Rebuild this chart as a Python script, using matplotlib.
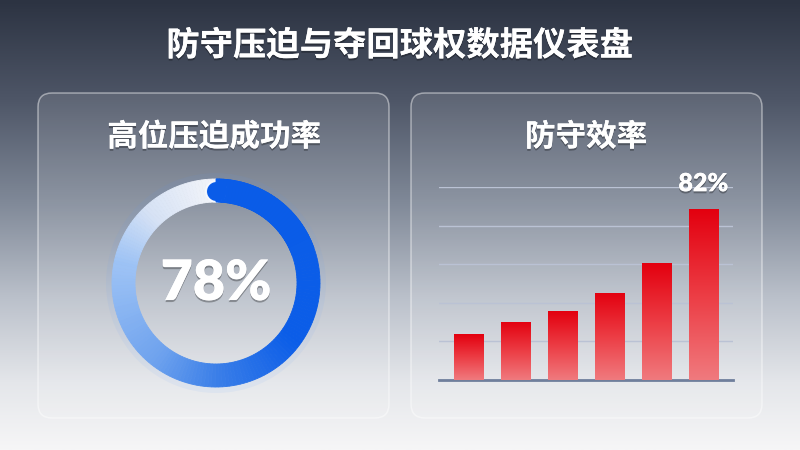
import numpy as np
import matplotlib
matplotlib.use("Agg")
import matplotlib.pyplot as plt
import matplotlib.patheffects as pe
from matplotlib.patches import FancyBboxPatch
from matplotlib.colors import LinearSegmentedColormap

plt.rcParams['font.family'] = ['Noto Sans CJK SC', 'DejaVu Sans']

# data
title = "防守压迫与夺回球权数据仪表盘"
gauge_title = "高位压迫成功率"
gauge_value = 78
bar_title = "防守效率"
bar_values = [22, 28, 33, 42, 56, 82]

W, H = 800, 450
fig = plt.figure(figsize=(8, 4.5), dpi=100)

# background in pixel coordinates
bg = fig.add_axes([0, 0, 1, 1])
bg.set_xlim(0, W)
bg.set_ylim(H, 0)
bg.axis('off')
stops = [(0.0, (44, 51, 66)), (0.22, (78, 86, 103)), (0.45, (128, 137, 152)),
         (0.66, (186, 192, 202)), (0.85, (228, 230, 234)), (1.0, (246, 246, 247))]
bg_cmap = LinearSegmentedColormap.from_list(
    'bg', [(p, np.array(c) / 255) for p, c in stops])
grad = np.linspace(0, 1, 256).reshape(-1, 1)
bg.imshow(grad, cmap=bg_cmap, aspect='auto', extent=(0, W, H, 0), zorder=0)

shadow = [pe.withSimplePatchShadow(offset=(0, -1.5), shadow_rgbFace='black', alpha=0.3), pe.Normal()]

bg.text(400, 46, title, color='white', fontsize=24, fontweight='heavy',
        ha='center', va='center', path_effects=shadow, zorder=5)

# glass panels
for x0, x1 in [(38, 389), (411, 762)]:
    p = FancyBboxPatch((x0, 93), x1 - x0, 325, boxstyle="round,pad=0,rounding_size=14",
                       facecolor=(1, 1, 1, 0.1), edgecolor=(1, 1, 1, 0.45), lw=1.1, zorder=1)
    bg.add_patch(p)

bg.text(214, 137, gauge_title, color='white', fontsize=22, fontweight='bold',
        ha='center', va='center', path_effects=shadow, zorder=5)
bg.text(586, 137, bar_title, color='white', fontsize=22, fontweight='bold',
        ha='center', va='center', path_effects=shadow, zorder=5)

# donut gauge
cx, cy, half = 216, 283, 120
axd = fig.add_axes([(cx - half) / W, 1 - (cy + half) / H, 2 * half / W, 2 * half / H])
axd.axis('off')
n, m = 140, 40
blue = LinearSegmentedColormap.from_list(
    'blue', [(0, '#0a5ce8'), (0.45, '#0b5de8'), (0.64, '#3a7ee8'),
             (0.78, '#6ea2ee'), (1.0, '#9cc2f5')])
track = LinearSegmentedColormap.from_list(
    'track', [(0, '#9cc2f5'), (0.45, '#d6e2f5'), (1.0, '#f2f4f9')])
seg_colors = [blue(i / (n - 1)) for i in range(n)] + [track(i / (m - 1)) for i in range(m)]
sizes = [gauge_value / n] * n + [(100 - gauge_value) / m] * m
wp = dict(width=0.23, linewidth=0.6)
# soft glow just outside the ring
axd.pie([1], radius=1.1, colors=[(0.35, 0.6, 1.0, 0.07)], wedgeprops=dict(width=0.08, linewidth=0))
wedges, _ = axd.pie(sizes, radius=1.04, startangle=90, counterclock=False,
                    colors=seg_colors, wedgeprops=wp)
for w in wedges:
    w.set_edgecolor(w.get_facecolor())
# rounded start cap
axd.scatter([0], [0.925], s=np.pi * 11.5 ** 2 * 0.53, color='#0a5ce8',
            edgecolors=(1, 1, 1, 0.9), linewidths=1.2, zorder=4)
head, _ = axd.pie([s / 100 for s in sizes[:n // 4]], radius=1.04, startangle=90,
                  counterclock=False, colors=seg_colors[:n // 4], normalize=False,
                  wedgeprops=dict(wp, zorder=5))
for w in head:
    w.set_edgecolor(w.get_facecolor())
axd.set_xlim(-1.2, 1.2)
axd.set_ylim(-1.2, 1.2)
axd.set_aspect('equal')
axd.text(0, 0, f"{gauge_value}%", color='white', fontsize=40, fontweight='heavy',
         family=['Lato', 'DejaVu Sans'],
         ha='center', va='center', path_effects=shadow, zorder=6)

# bar chart
left, right, base, top = 439, 733, 380, 187
axb = fig.add_axes([left / W, 1 - base / H, (right - left) / W, (base - top) / H])
axb.patch.set_alpha(0)
ymax = max(bar_values) * 1.13
x = np.arange(len(bar_values))
bars = axb.bar(x, bar_values, width=0.62, color='none', zorder=3)
red = LinearSegmentedColormap.from_list('red', ['#f07a7e', '#ec3c44', '#e3000f'])
vgrad = np.linspace(0, 1, 256).reshape(-1, 1)
for b in bars:
    bx, by, bw, bh = b.get_x(), b.get_y(), b.get_width(), b.get_height()
    im = axb.imshow(vgrad, cmap=red, origin='lower', aspect='auto',
                    extent=(bx, bx + bw, by, by + bh), zorder=3)
    im.set_clip_path(b)
axb.set_xlim(-0.63, len(bar_values) - 0.37)
axb.set_ylim(0, ymax)
axb.set_yticks(np.linspace(0, ymax, 6)[1:])
axb.grid(axis='y', color=(0.73, 0.76, 0.83, 0.8), lw=1, zorder=1)
axb.set_axisbelow(True)
for s in ['top', 'right', 'left']:
    axb.spines[s].set_visible(False)
axb.spines['bottom'].set_color('#6f7e9c')
axb.spines['bottom'].set_linewidth(2)
axb.tick_params(left=False, bottom=False, labelleft=False, labelbottom=False)
axb.annotate(f"{bar_values[-1]}%", (x[-1], bar_values[-1]), xytext=(0, 18),
             textcoords='offset points', ha='center', va='center', color='white',
             fontsize=18, fontweight='heavy', family=['Lato', 'DejaVu Sans'],
             path_effects=shadow, zorder=6, annotation_clip=False)

fig.savefig("out.png", dpi=100)
